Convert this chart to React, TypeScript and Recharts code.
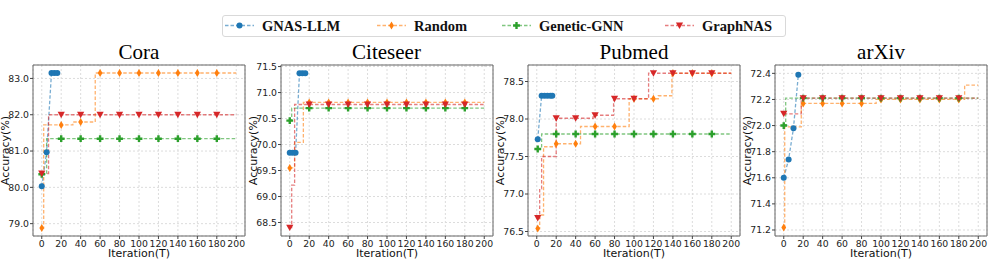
import React from 'react';
import {
  ComposedChart,
  Line,
  Scatter,
  XAxis,
  YAxis,
  CartesianGrid,
  ReferenceArea,
} from 'recharts';

type Pt = [number, number];

// ---- data ----
const iterationTicks = [0, 20, 40, 60, 80, 100, 120, 140, 160, 180, 200];
const markIters = [0, 20, 40, 60, 80, 100, 120, 140, 160, 180];
const pubmedMarkIters = [1, 20, 40, 60, 80, 100, 120, 140, 160, 180];

const seriesNames = ['GNAS-LLM', 'Random', 'Genetic-GNN', 'GraphNAS'];

// Cora
const coraTicks = [79, 80, 81, 82, 83];
const coraLLM: Pt[] = [[0, 80.03], [5, 80.97], [10, 83.15], [13, 83.15], [16, 83.15]];
const coraRandom: Pt[] = [[0, 78.88], [2, 81.72], [32, 81.8], [55, 83.15], [200, 83.15]];
const coraGenetic: Pt[] = [[0, 80.36], [5, 81.34], [200, 81.34]];
const coraGraphNAS: Pt[] = [[0, 80.38], [7, 82.0], [200, 82.0]];

// Citeseer
const citeseerTicks = [68.5, 69, 69.5, 70, 70.5, 71, 71.5];
const citeseerLLM: Pt[] = [[0, 69.84], [3, 69.84], [6, 69.84], [10, 71.37], [13, 71.37], [16, 71.37]];
const citeseerRandom: Pt[] = [[0, 69.55], [5, 70.04], [14, 70.81], [200, 70.81]];
const citeseerGenetic: Pt[] = [[0, 70.46], [2, 70.7], [200, 70.7]];
const citeseerGraphNAS: Pt[] = [[0, 68.4], [2, 69.22], [5, 70.77], [200, 70.77]];

// Pubmed
const pubmedTicks = [76.5, 77, 77.5, 78, 78.5];
const pubmedLLM: Pt[] = [[1, 77.73], [5, 78.31], [8, 78.31], [11, 78.31], [14, 78.31], [16, 78.31]];
const pubmedRandom: Pt[] = [
  [1, 76.54], [3, 76.72], [7, 77.63], [19, 77.67], [45, 77.9], [95, 78.27], [125, 78.31], [139, 78.61], [200, 78.61],
];
const pubmedGenetic: Pt[] = [[1, 77.6], [5, 77.8], [200, 77.8]];
const pubmedGraphNAS: Pt[] = [
  [1, 76.68], [3, 77.07], [5, 77.5], [20, 78.01], [58, 78.05], [79, 78.27], [115, 78.61], [200, 78.61],
];

// arXiv
const arxivTicks = [71.2, 71.4, 71.6, 71.8, 72.0, 72.2, 72.4];
const arxivLLM: Pt[] = [[0, 71.6], [5, 71.74], [10, 71.98], [15, 72.39]];
const arxivRandom: Pt[] = [[0, 71.22], [1, 71.99], [18, 72.17], [95, 72.2], [186, 72.31], [200, 72.31]];
const arxivGenetic: Pt[] = [[0, 72.0], [2, 72.21], [200, 72.21]];
const arxivGraphNAS: Pt[] = [[0, 72.09], [18, 72.21], [200, 72.21]];

// ---- styling ----
const COLORS = ['#1f77b4', '#ff7f0e', '#2ca02c', '#d62728'];
const SHAPES = ['circle', 'diamond', 'plus', 'triangle'];
const X_DOMAIN: [number, number] = [-9, 209];
const PLOT_W = 212;
const Y_AXIS_W = 33;
const TICK_FONT = { fontSize: 9.3, fill: '#222', fontFamily: 'DejaVu Sans' };
const LABEL_FONT = { fontSize: 11, fill: '#111', fontFamily: 'DejaVu Sans' };

const panels = [
  { title: 'Cora', ticks: coraTicks, domain: [78.66, 83.37], marks: markIters, series: [coraLLM, coraRandom, coraGenetic, coraGraphNAS] },
  { title: 'Citeseer', ticks: citeseerTicks, domain: [68.24, 71.53], marks: markIters, series: [citeseerLLM, citeseerRandom, citeseerGenetic, citeseerGraphNAS] },
  { title: 'Pubmed', ticks: pubmedTicks, domain: [76.44, 78.72], marks: pubmedMarkIters, series: [pubmedLLM, pubmedRandom, pubmedGenetic, pubmedGraphNAS] },
  { title: 'arXiv', ticks: arxivTicks, domain: [71.154, 72.464], marks: markIters, series: [arxivLLM, arxivRandom, arxivGenetic, arxivGraphNAS] },
];
const chartLefts = [0, 247.5, 495, 742];

// value of a best-so-far step curve at iteration x
const stepAt = (pts: Pt[], x: number) => {
  let v = pts[0][1];
  for (const [px, py] of pts) if (px <= x) v = py;
  return v;
};

function Marker({ shape, color, cx, cy }: { shape: string; color: string; cx: number; cy: number }) {
  if (shape === 'circle') return <circle cx={cx} cy={cy} r={3} fill={color} />;
  if (shape === 'diamond')
    return <polygon points={`${cx},${cy - 4} ${cx + 2.4},${cy} ${cx},${cy + 4} ${cx - 2.4},${cy}`} fill={color} />;
  if (shape === 'plus') {
    const a = 3.4;
    const b = 1.2;
    return (
      <polygon
        points={`${cx - b},${cy - a} ${cx + b},${cy - a} ${cx + b},${cy - b} ${cx + a},${cy - b} ${cx + a},${cy + b} ${cx + b},${cy + b} ${cx + b},${cy + a} ${cx - b},${cy + a} ${cx - b},${cy + b} ${cx - a},${cy + b} ${cx - a},${cy - b} ${cx - b},${cy - b}`}
        fill={color}
      />
    );
  }
  return <polygon points={`${cx - 3.6},${cy - 3} ${cx + 3.6},${cy - 3} ${cx},${cy + 3.4}`} fill={color} />;
}

function Panel({ panel }: { panel: (typeof panels)[number] }) {
  const [y0, y1] = panel.domain;
  return (
    <ComposedChart width={Y_AXIS_W + PLOT_W + 2} height={266} margin={{ top: 65, right: 2, bottom: 0, left: 0 }}>
      <CartesianGrid stroke="#dcdcdc" strokeDasharray="2 2" />
      <XAxis
        dataKey="x"
        type="number"
        domain={X_DOMAIN}
        allowDataOverflow
        ticks={iterationTicks}
        interval={0}
        height={30}
        tick={TICK_FONT}
        tickSize={3}
        tickMargin={1}
        axisLine={false}
        tickLine={{ stroke: '#444' }}
        label={{ value: 'Iteration(T)', position: 'insideBottom', offset: 9.5, style: LABEL_FONT }}
      />
      <YAxis
        dataKey="y"
        type="number"
        domain={[y0, y1]}
        allowDataOverflow
        ticks={panel.ticks}
        interval={0}
        width={Y_AXIS_W}
        tick={TICK_FONT}
        tickSize={3}
        tickMargin={1}
        tickFormatter={(v: number) => v.toFixed(1)}
        axisLine={false}
        tickLine={{ stroke: '#444' }}
        label={{
          value: 'Accuracy(%)',
          angle: -90,
          position: 'insideLeft',
          offset: 5,
          style: { ...LABEL_FONT, textAnchor: 'middle' },
        }}
      />
      {panel.series.flatMap((pts, i) => {
        const isLLM = i === 0;
        const lineData = pts.map(([x, y]) => ({ x, y }));
        const markData = isLLM ? lineData : panel.marks.map((x) => ({ x, y: stepAt(pts, x) }));
        return [
          <Line
            key={`l${i}`}
            data={lineData}
            dataKey="y"
            name={seriesNames[i]}
            type={isLLM ? 'linear' : 'stepAfter'}
            stroke={COLORS[i]}
            strokeOpacity={0.6}
            strokeWidth={1.3}
            strokeDasharray="3.5 2"
            dot={false}
            activeDot={false}
            isAnimationActive={false}
          />,
          <Scatter
            key={`s${i}`}
            data={markData}
            dataKey="y"
            name={seriesNames[i]}
            fill={COLORS[i]}
            isAnimationActive={false}
            shape={(p: any) => <Marker shape={SHAPES[i]} color={COLORS[i]} cx={p.cx} cy={p.cy} />}
          />,
        ];
      })}
      <ReferenceArea x1={X_DOMAIN[0]} x2={X_DOMAIN[1]} y1={y0} y2={y1} fill="none" stroke="#666" strokeWidth={1} ifOverflow="visible" />
    </ComposedChart>
  );
}

function LegendBox() {
  const starts = [3, 155, 280, 443];
  return (
    <svg width={566} height={24} style={{ position: 'absolute', left: 222, top: 15 }}>
      <rect x={0.5} y={0.5} width={563} height={21} rx={2.5} fill="#fff" stroke="#d9d9d9" />
      {seriesNames.map((name, i) => (
        <g key={name}>
          <line
            x1={starts[i]}
            x2={starts[i] + 29}
            y1={10.5}
            y2={10.5}
            stroke={COLORS[i]}
            strokeOpacity={0.6}
            strokeWidth={1.3}
            strokeDasharray="3.5 2"
          />
          <Marker shape={SHAPES[i]} color={COLORS[i]} cx={starts[i] + 14.5} cy={10.5} />
          <text
            x={starts[i] + 37}
            y={15.5}
            fontFamily="Liberation Serif"
            fontWeight="bold"
            fontSize={14.5}
            fill="#111"
          >
            {name}
          </text>
        </g>
      ))}
    </svg>
  );
}

export default function App() {
  return (
    <div style={{ position: 'absolute', left: 0, top: 0, width: 996, height: 266, background: '#fff', overflow: 'hidden' }}>
      <LegendBox />
      {panels.map((p, i) => (
        <React.Fragment key={p.title}>
          <div
            style={{
              position: 'absolute',
              left: chartLefts[i] + Y_AXIS_W,
              top: 42,
              width: PLOT_W,
              textAlign: 'center',
              fontFamily: 'Liberation Serif',
              fontSize: 21,
              lineHeight: '21px',
              color: '#000',
            }}
          >
            {p.title}
          </div>
          <div style={{ position: 'absolute', left: chartLefts[i], top: 0 }}>
            <Panel panel={p} />
          </div>
        </React.Fragment>
      ))}
    </div>
  );
}
